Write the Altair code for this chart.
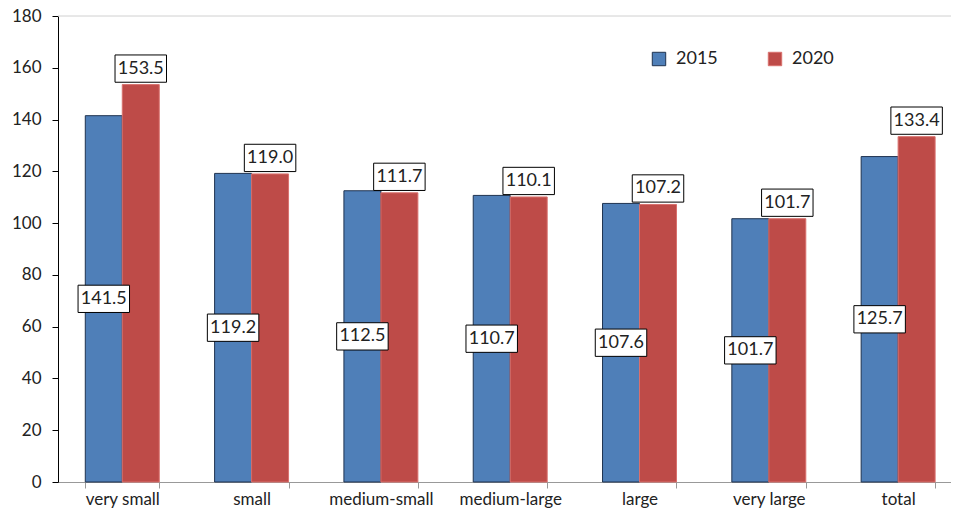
import altair as alt
import pandas as pd

categories = ["very small", "small", "medium-small", "medium-large", "large", "very large", "total"]
years = ["2015", "2020"]
values_2015 = [141.5, 119.2, 112.5, 110.7, 107.6, 101.7, 125.7]
values_2020 = [153.5, 119.0, 111.7, 110.1, 107.2, 101.7, 133.4]
y_ticks = list(range(0, 181, 20))

rows = []
for c, a, b in zip(categories, values_2015, values_2020):
    rows.append({"category": c, "year": "2015", "value": a})
    rows.append({"category": c, "year": "2020", "value": b})
df = pd.DataFrame(rows)

FONT = "Lato"

x_scale = alt.Scale(domain=categories, paddingInner=0.428, paddingOuter=0.167, align=0.632)
x_enc = alt.X("category:N", sort=categories, title=None, scale=x_scale,
              axis=alt.Axis(labelAngle=0, labelFontSize=17, labelFont=FONT, labelColor="#222",
                            labelPadding=3, labelBaseline="top", domainColor="#999", tickColor="#999",
                            tickSize=6, bandPosition=0, tickBand="extent", grid=False))
x_plain = alt.X("category:N", sort=categories, scale=x_scale)
xo_enc = alt.XOffset("year:N", scale=alt.Scale(domain=years, paddingInner=0, paddingOuter=0))
y_scale = alt.Scale(domain=[0, 180], nice=False)

bars = alt.Chart(df).mark_bar(strokeWidth=1).encode(
    x=x_enc,
    xOffset=xo_enc,
    y=alt.Y("value:Q", scale=y_scale, title=None,
            axis=alt.Axis(values=y_ticks, labelFontSize=17, labelFont=FONT, labelColor="#222",
                          labelPadding=11, domainColor="#000", tickColor="#000", tickSize=6,
                          grid=False)),
    color=alt.Color("year:N", scale=alt.Scale(domain=years, range=["#4F7FB8", "#BE4B48"]), title=None,
                    legend=alt.Legend(orient="none", legendX=592, legendY=34, direction="horizontal",
                                      symbolType="square", symbolSize=180, labelFontSize=18,
                                      labelFont=FONT, labelColor="#222", labelOffset=8,
                                      columnPadding=48, symbolStrokeWidth=1)),
    stroke=alt.Stroke("year:N", scale=alt.Scale(domain=years, range=["#1F3350", "#D9706D"]), title=None),
)

box_shape = "M-1,-0.53L1,-0.53L1,0.53L-1,0.53Z"

d15 = df[df.year == "2015"]
d20 = df[df.year == "2020"]

lab15_box = alt.Chart(d15).transform_calculate(half="datum.value/2").mark_point(
    shape=box_shape, size=2650, filled=True, fill="white", stroke="#000", strokeWidth=1, opacity=1
).encode(x=x_plain, xOffset=xo_enc, y=alt.Y("half:Q", scale=y_scale))
lab15_txt = alt.Chart(d15).transform_calculate(half="datum.value/2").mark_text(
    font=FONT, fontSize=18, color="#222", baseline="middle", align="center"
).encode(x=x_plain, xOffset=xo_enc, y=alt.Y("half:Q", scale=y_scale),
         text=alt.Text("value:Q", format=".1f"))

lab20_box = alt.Chart(d20).mark_point(
    shape=box_shape, size=2650, filled=True, fill="white", stroke="#000", strokeWidth=1, opacity=1,
    yOffset=-16
).encode(x=x_plain, xOffset=xo_enc, y=alt.Y("value:Q", scale=y_scale))
lab20_txt = alt.Chart(d20).mark_text(
    font=FONT, fontSize=18, color="#222", baseline="middle", align="center", dy=-16
).encode(x=x_plain, xOffset=xo_enc, y=alt.Y("value:Q", scale=y_scale),
         text=alt.Text("value:Q", format=".1f"))

top_rule = alt.Chart(pd.DataFrame({"v": [180]})).mark_rule(color="#d0d0d0", strokeWidth=1).encode(
    y=alt.Y("v:Q", scale=y_scale))

chart = alt.layer(bars, top_rule, lab15_box, lab15_txt, lab20_box, lab20_txt).properties(
    width=893, height=466,
    autosize=alt.AutoSizeParams(type="none"),
    padding={"left": 50, "top": 8, "right": 0, "bottom": 30},
).configure_view(stroke=None)

chart.save("out.html", embed_options={"renderer": "svg", "actions": False})
